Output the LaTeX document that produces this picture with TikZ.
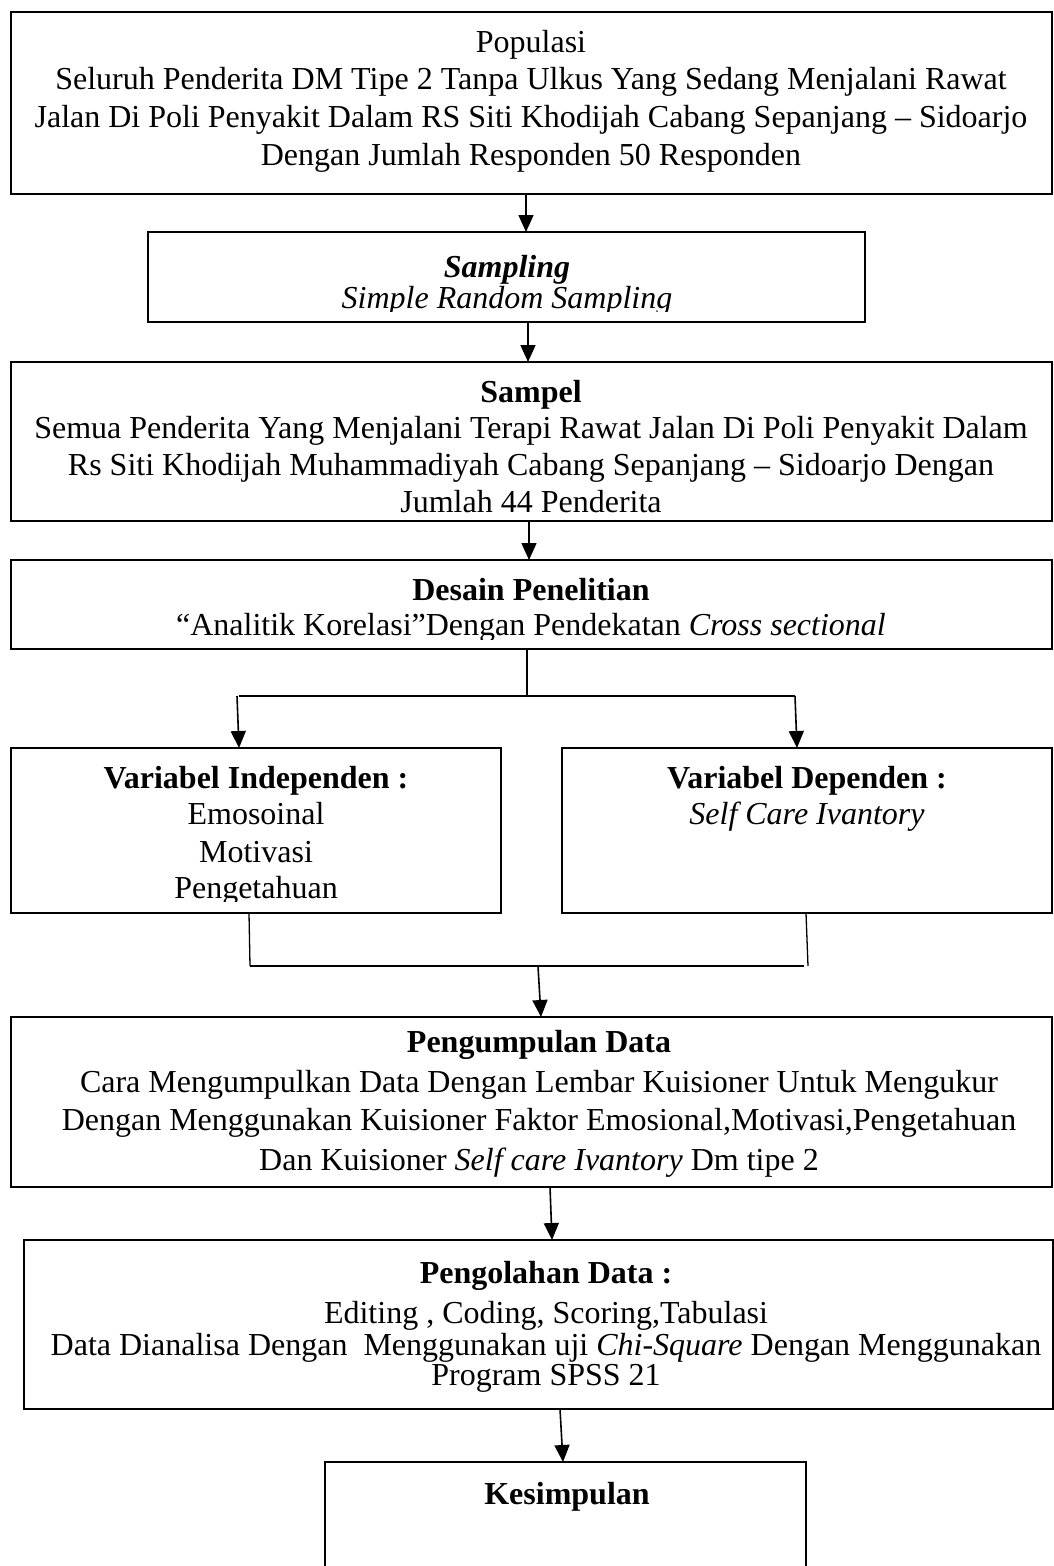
\documentclass[tikz,border=0pt]{standalone}
\usepackage{fontspec}
\setmainfont{Liberation Serif}
\usetikzlibrary{arrows.meta}
\begin{document}
\begin{tikzpicture}[x=1pt,y=-1pt,
  box/.style={draw=black, line width=2pt, rectangle, inner sep=0pt, outer sep=0pt, anchor=north west},
  txt/.style={inner sep=0pt, outer sep=0pt, anchor=base, font=\fontsize{32}{37}\selectfont},
  conn/.style={draw=black, line width=1.6pt},
  arr/.style={conn, -{Triangle[length=17pt,width=15pt]}}]
\useasboundingbox (0,0) rectangle (1054,1566);
\fill[white] (0,0) rectangle (1054,1566);

% boxes
\node[box, minimum width=1041pt, minimum height=182pt] (b1) at (11,12) {};
\node[box, minimum width=717pt, minimum height=90pt] (b2) at (148,232) {};
\node[box, minimum width=1041pt, minimum height=159pt] (b3) at (11,362) {};
\node[box, minimum width=1041pt, minimum height=89pt] (b4) at (11,560) {};
\node[box, minimum width=490pt, minimum height=165pt] (b5) at (11,748) {};
\node[box, minimum width=490pt, minimum height=165pt] (b6) at (562,748) {};
\node[box, minimum width=1041pt, minimum height=170pt] (b7) at (11,1017) {};
\node[box, minimum width=1029pt, minimum height=169pt] (b8) at (23.5,1240) {};
\node[box, minimum width=481pt, minimum height=140pt] (b9) at (325,1462) {};

% texts box 1
\node[txt] (t1a) at (531,52) {Populasi};
\node[txt] (t1b) at (531,89) {Seluruh Penderita DM Tipe 2 Tanpa Ulkus Yang Sedang Menjalani Rawat};
\node[txt] (t1c) at (531,127) {Jalan Di Poli Penyakit Dalam RS Siti Khodijah Cabang Sepanjang – Sidoarjo};
\node[txt] (t1d) at (531,165) {Dengan Jumlah Responden 50 Responden};

% box 2
\node[txt] (t2a) at (507,277) {\textbf{\textit{Sampling}}};
\begin{scope}
\clip (148,232) rectangle (865,311);
\node[txt] (t2b) at (507,308) {\textit{Simple Random Sampling}};
\end{scope}

% box 3
\node[txt] (t3a) at (531,402) {\textbf{Sampel}};
\node[txt] (t3b) at (531,438) {Semua Penderita Yang Menjalani Terapi Rawat Jalan Di Poli Penyakit Dalam};
\node[txt] (t3c) at (531,475) {Rs Siti Khodijah Muhammadiyah Cabang Sepanjang – Sidoarjo Dengan};
\node[txt] (t3d) at (531,512) {Jumlah 44 Penderita};

% box 4
\node[txt] (t4a) at (531,600) {\textbf{Desain Penelitian}};
\begin{scope}
\clip (11,560) rectangle (1052,639);
\node[txt] (t4b) at (531,635) {“Analitik Korelasi”Dengan Pendekatan \textit{Cross sectional}};
\end{scope}

% box 5
\node[txt] (t5a) at (256,788) {\textbf{Variabel Independen :}};
\node[txt] (t5b) at (256,824) {Emosoinal};
\node[txt] (t5c) at (256,862) {Motivasi};
\begin{scope}
\clip (11,748) rectangle (501,901);
\node[txt] (t5d) at (256,898) {Pengetahuan};
\end{scope}

% box 6
\node[txt] (t6a) at (807,788) {\textbf{Variabel Dependen :}};
\node[txt] (t6b) at (807,824) {\textit{Self Care Ivantory}};

% box 7
\node[txt] (t7a) at (539,1052) {\textbf{Pengumpulan Data}};
\node[txt] (t7b) at (539,1092) {Cara Mengumpulkan Data Dengan Lembar Kuisioner Untuk Mengukur};
\node[txt] (t7c) at (539,1130) {Dengan Menggunakan Kuisioner Faktor Emosional,Motivasi,Pengetahuan};
\node[txt] (t7d) at (539,1170) {Dan Kuisioner \textit{Self care Ivantory} Dm tipe 2};

% box 8
\node[txt] (t8a) at (546,1283) {\textbf{Pengolahan Data :}};
\node[txt] (t8b) at (546,1323) {Editing , Coding, Scoring,Tabulasi};
\node[txt] (t8c) at (546,1355) {Data Dianalisa Dengan\ \ Menggunakan uji \textit{Chi-Square} Dengan Menggunakan};
\node[txt] (t8d) at (546,1385) {Program SPSS 21};

% box 9
\node[txt] (t9a) at (567,1504) {\textbf{Kesimpulan}};

% connector coordinates
\coordinate (x1) at (526,0);
\coordinate (x2) at (528,0);
\coordinate (x3) at (529,0);
\coordinate (j1) at (527,696);
\coordinate (jl) at (237,696);
\coordinate (jls) at (239,696);
\coordinate (jr) at (795,696);
\coordinate (tl) at (239,0);
\coordinate (tr) at (797,0);
\coordinate (kl) at (250,966);
\coordinate (kr) at (808,966);
\coordinate (krs) at (804,966);
\coordinate (sl) at (249,0);
\coordinate (sr) at (806,0);
\coordinate (m1) at (538,966);
\coordinate (m1t) at (541,0);
\coordinate (n1) at (550,0);
\coordinate (n1t) at (552,0);
\coordinate (p1) at (560,0);
\coordinate (p1t) at (563,0);

% connectors
\draw[arr] (b1.south -| x1) -- (b2.north -| x1);
\draw[arr] (b2.south -| x2) -- (b3.north -| x2);
\draw[arr] (b3.south -| x3) -- (b4.north -| x3);
\draw[conn] (b4.south -| j1) -- (j1);
\draw[conn] (jls) -- (jr);
\draw[arr] (jl) -- (b5.north -| tl);
\draw[arr] (jr) -- (b6.north -| tr);
\draw[conn, line width=1.3pt] (b5.south -| sl) -- (kl);
\draw[conn, line width=1.3pt] (b6.south -| sr) -- (kr);
\draw[conn, line width=1.3pt] (kl) -- (krs);
\draw[arr] (m1) -- (b7.north -| m1t);
\draw[arr] (b7.south -| n1) -- (b8.north -| n1t);
\draw[arr] (b8.south -| p1) -- (b9.north -| p1t);
\end{tikzpicture}
\end{document}
